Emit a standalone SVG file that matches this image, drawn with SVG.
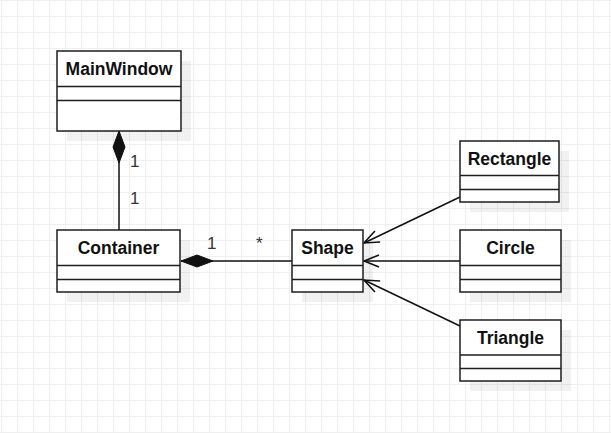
<svg xmlns="http://www.w3.org/2000/svg" width="611" height="433" viewBox="0 0 611 433">
<style>
.box{fill:#fff;stroke:#1e1e1e;stroke-width:1.5}
.sh{fill:#000;fill-opacity:0.055}
.sep{stroke:#1e1e1e;stroke-width:1.5;fill:none}
.title{font-family:"Liberation Sans",Arial,sans-serif;font-weight:bold;font-size:17.5px;fill:#111;text-anchor:middle}
.lbl{font-family:"Liberation Sans",Arial,sans-serif;font-size:17px;fill:#333}
.edge{stroke:#111;stroke-width:1.5;fill:none}
</style>
<defs>
<pattern id="grid" width="16" height="16" patternUnits="userSpaceOnUse" x="1" y="0">
<path d="M0 0.5H16M0.5 0V16" stroke="#efefef" stroke-width="1" fill="none"/>
</pattern>
<marker id="diamond" markerUnits="userSpaceOnUse" markerWidth="40" markerHeight="20" refX="0" refY="0" orient="auto" overflow="visible">
<path d="M0 0L16 -6L32 0L16 6Z" fill="#111" stroke="#111" stroke-width="1"/>
</marker>
<marker id="open" markerUnits="userSpaceOnUse" markerWidth="20" markerHeight="20" refX="0" refY="0" orient="auto" overflow="visible">
<path d="M-15 -6L0 0L-15 6" fill="none" stroke="#111" stroke-width="1.5"/>
</marker>
</defs>
<rect width="611" height="433" fill="#fff"/>
<rect width="611" height="433" fill="url(#grid)"/>

<g id="connectors">
<path class="edge" d="M119 131V230" marker-start="url(#diamond)"/>
<path class="edge" d="M181 261H292" marker-start="url(#diamond)"/>
<path class="edge" d="M460 197L364 243" marker-end="url(#open)"/>
<path class="edge" d="M460 261H364" marker-end="url(#open)"/>
<path class="edge" d="M460 326L364 280" marker-end="url(#open)"/>
<text class="lbl" x="130" y="167">1</text>
<text class="lbl" x="130" y="204">1</text>
<text class="lbl" x="207" y="249">1</text>
<text class="lbl" x="256" y="249">*</text>
</g>

<g id="MainWindow">
<rect class="sh" x="67" y="61" width="124" height="80"/>
<rect class="box" x="57" y="51" width="124" height="80"/>
<path class="sep" d="M57 86.5H181M57 100.5H181"/>
<text class="title" x="119" y="75">MainWindow</text>
</g>

<g id="Container">
<rect class="sh" x="67" y="240" width="123" height="62"/>
<rect class="box" x="57" y="230" width="123" height="62"/>
<path class="sep" d="M57 265.5H180M57 279.5H180"/>
<text class="title" x="118.5" y="254">Container</text>
</g>

<g id="Shape">
<rect class="sh" x="302" y="240" width="71" height="62"/>
<rect class="box" x="292" y="230" width="71" height="62"/>
<path class="sep" d="M292 265.5H363M292 279.5H363"/>
<text class="title" x="327.5" y="254">Shape</text>
</g>

<g id="Rectangle">
<rect class="sh" x="470" y="151" width="99" height="61"/>
<rect class="box" x="460" y="141" width="99" height="61"/>
<path class="sep" d="M460 175.5H559M460 189.5H559"/>
<text class="title" x="509.5" y="165">Rectangle</text>
</g>

<g id="Circle">
<rect class="sh" x="470" y="240" width="101" height="62"/>
<rect class="box" x="460" y="230" width="101" height="62"/>
<path class="sep" d="M460 265.5H561M460 279.5H561"/>
<text class="title" x="510.5" y="254">Circle</text>
</g>

<g id="Triangle">
<rect class="sh" x="470" y="330" width="101" height="61"/>
<rect class="box" x="460" y="320" width="101" height="61"/>
<path class="sep" d="M460 355H561M460 368.5H561"/>
<text class="title" x="510.5" y="344">Triangle</text>
</g>
</svg>
